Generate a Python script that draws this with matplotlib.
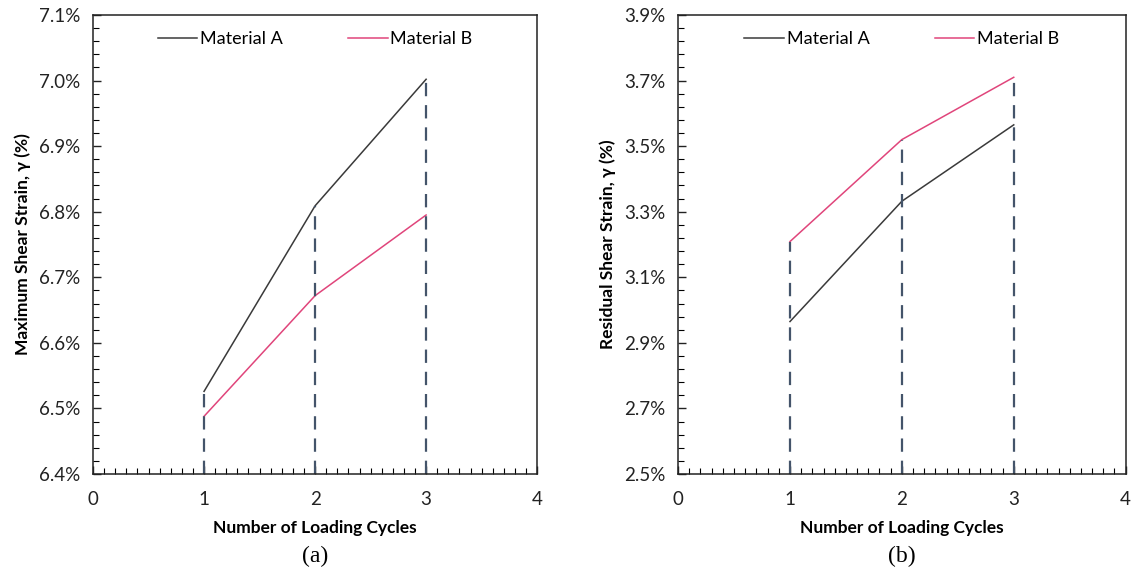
import numpy as np
import matplotlib
matplotlib.use('Agg')
import matplotlib.pyplot as plt
from matplotlib.ticker import MultipleLocator, FuncFormatter

# data
cycles = [1, 2, 3]
max_a = [6.526, 6.809, 7.002]   # Maximum shear strain, Material A (%)
max_b = [6.488, 6.672, 6.795]   # Maximum shear strain, Material B (%)
res_a = [2.965, 3.332, 3.565]   # Residual shear strain, Material A (%)
res_b = [3.209, 3.520, 3.710]   # Residual shear strain, Material B (%)

plt.rcParams['font.family'] = ['Lato', 'DejaVu Sans']

color_a = '#3a3a3a'
color_b = '#e0457b'
color_drop = '#44546a'


def panel(ax, a, b, ymin, ymax, ymajor, yminor, ylabel, caption):
    ax.plot(cycles, a, color=color_a, linewidth=1.1, label='Material A')
    ax.plot(cycles, b, color=color_b, linewidth=1.1, label='Material B')
    tops = np.maximum(a, b)
    ax.vlines(cycles, ymin, tops, colors=color_drop, linestyles=(0, (6, 4)), linewidth=1.6)
    ax.set_xlim(0, 4)
    ax.set_ylim(ymin, ymax)
    ax.xaxis.set_major_locator(MultipleLocator(1))
    ax.xaxis.set_minor_locator(MultipleLocator(0.1))
    ax.yaxis.set_major_locator(MultipleLocator(ymajor, offset=ymin % ymajor))
    ax.yaxis.set_minor_locator(MultipleLocator(yminor, offset=ymin % yminor))
    ax.yaxis.set_major_formatter(FuncFormatter(lambda v, p: '%.1f%%' % v))
    ax.tick_params(which='major', direction='in', length=6, width=1, labelsize=13.5, colors='#222222')
    ax.tick_params(which='minor', direction='in', length=4, width=0.8)
    ax.tick_params(axis='x', which='major', pad=12)
    ax.tick_params(axis='y', which='major', pad=9)
    for s in ax.spines.values():
        s.set_linewidth(1.1)
        s.set_color('#222222')
    ax.set_xlabel('Number of Loading Cycles', fontsize=12.5, fontweight='bold', labelpad=9)
    ax.set_ylabel(ylabel, fontsize=12.5, fontweight='bold', labelpad=6)
    ax.legend(loc='upper center', ncol=2, frameon=False, fontsize=13, handlelength=2.2,
              handletextpad=0.15, columnspacing=3.6, bbox_to_anchor=(0.5, 1.0))
    ax.text(0.5, -0.179, caption, transform=ax.transAxes, ha='center', va='center',
            fontsize=17, family='Liberation Serif')


fig = plt.figure(figsize=(11.33, 5.77), dpi=100)
ax1 = fig.add_axes([0.0821, 0.1785, 0.392, 0.7955])
ax2 = fig.add_axes([0.5985, 0.1785, 0.395, 0.7955])

panel(ax1, max_a, max_b, 6.4, 7.1, 0.1, 0.02, 'Maximum Shear Strain, γ (%)', '(a)')
panel(ax2, res_a, res_b, 2.5, 3.9, 0.2, 0.04, 'Residual Shear Strain, γ (%)', '(b)')

fig.savefig('out.png', dpi=100)
